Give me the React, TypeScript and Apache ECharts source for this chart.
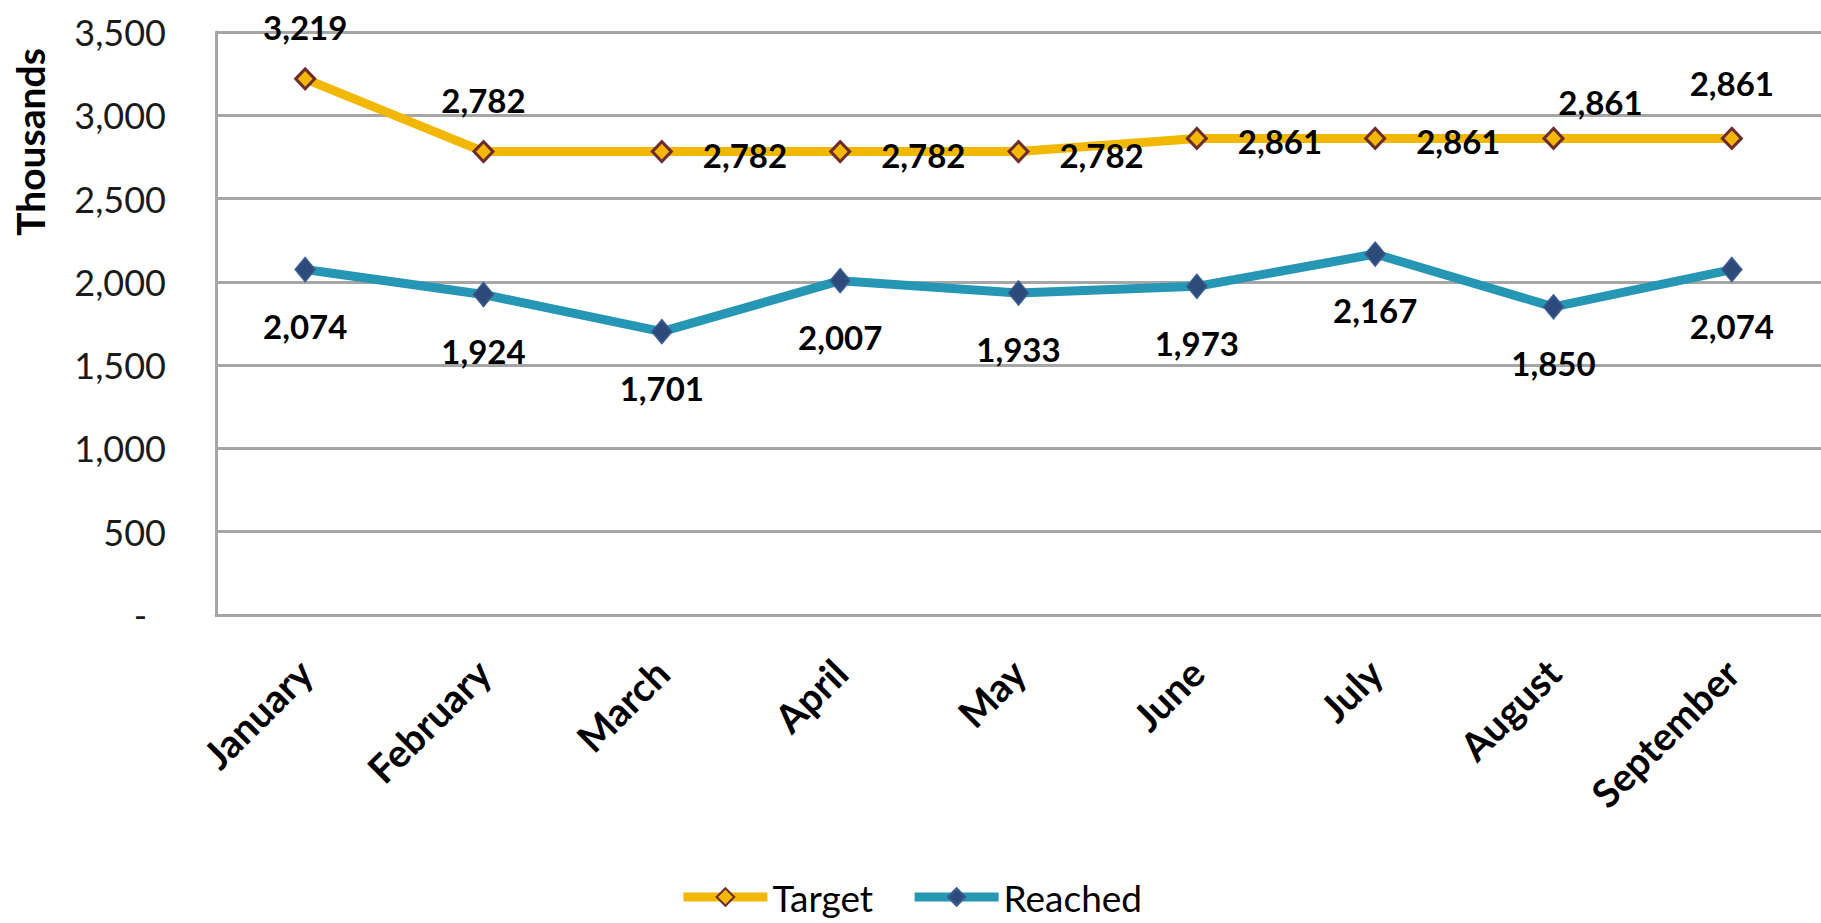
import React, { useEffect, useRef } from "react";
import * as echarts from "echarts";

const months = ["January", "February", "March", "April", "May", "June", "July", "August", "September"];
const targetValues = [3219, 2782, 2782, 2782, 2782, 2861, 2861, 2861, 2861];
const reachedValues = [2074, 1924, 1701, 2007, 1933, 1973, 2167, 1850, 2074];
const yTicks = { min: 0, max: 3500, interval: 500 };

// label placement (style only)
const targetLabelPos = ["top", "top", "right", "right", "right", "right", "right", "top", "top"];
const targetLabelOffset = [[0, 0], [0, 0], [0, 3], [0, 3], [0, 3], [0, 3], [0, 3], [47, 16], [0, -3]];

const fmt = (v: number) => v.toLocaleString("en-US");

export default function App() {
  const ref = useRef<HTMLDivElement>(null);
  useEffect(() => {
    if (!ref.current) return;
    const chart = echarts.init(ref.current, undefined, { renderer: "svg" });
    const labelBase = {
      show: true,
      color: "#000",
      fontWeight: "bold" as const,
      fontSize: 33,
      fontFamily: "Lato",
      formatter: (p: any) => fmt(p.value),
    };
    const option = {
      animation: false,
      textStyle: { fontFamily: "Lato" },
      grid: { left: 216, top: 32, width: 1608, height: 583, containLabel: false },
      legend: {
        top: 873,
        left: "center",
        itemWidth: 84,
        itemHeight: 22,
        itemGap: 37,
        lineStyle: { width: 9 },
        textStyle: { fontSize: 37, lineHeight: 38, color: "#000", fontFamily: "Lato" },
        data: ["Target", "Reached"],
      },
      xAxis: {
        type: "category",
        data: months,
        boundaryGap: true,
        axisTick: { show: false },
        axisLine: { lineStyle: { color: "#A6A6A6", width: 3 } },
        axisLabel: {
          rotate: 45,
          fontSize: 39,
          fontWeight: "bold",
          color: "#000",
          margin: 51,
          interval: 0,
        },
      },
      yAxis: {
        type: "value",
        min: yTicks.min,
        max: yTicks.max,
        interval: yTicks.interval,
        axisLine: { show: true, lineStyle: { color: "#A6A6A6", width: 3 } },
        axisTick: { show: false },
        splitLine: { lineStyle: { color: "#A6A6A6", width: 3 } },
        axisLabel: {
          fontSize: 36,
          color: "#1a1a1a",
          margin: 50,
          formatter: (v: number) => (v === 0 ? "{d|-}" : fmt(v)),
          rich: { d: { fontSize: 36, color: "#1a1a1a", padding: [0, 19, 0, 0] } },
        },
      },
      graphic: [
        {
          type: "text",
          x: 30,
          y: 142,
          rotation: Math.PI / 2,
          style: {
            text: "Thousands",
            fontSize: 39,
            fontWeight: "bold",
            fontFamily: "Lato",
            fill: "#000",
            align: "center",
            verticalAlign: "middle",
          },
        },
      ],
      series: [
        {
          name: "Target",
          type: "line",
          data: targetValues.map((v, i) => ({
            value: v,
            label: {
              position: targetLabelPos[i],
              distance: targetLabelPos[i] === "right" ? 30 : 24,
              offset: targetLabelOffset[i],
            },
          })),
          symbol: "diamond",
          symbolSize: [19, 20],
          lineStyle: { color: "#F2B700", width: 9 },
          itemStyle: { color: "#F5B800", borderColor: "#6E2C2C", borderWidth: 3 },
          label: labelBase,
          emphasis: { disabled: true },
          z: 3,
        },
        {
          name: "Reached",
          type: "line",
          data: reachedValues,
          symbol: "diamond",
          symbolSize: [20, 24],
          lineStyle: { color: "#2596B4", width: 9 },
          itemStyle: { color: "#2D4B7A", borderColor: "#3B5D91", borderWidth: 1.5 },
          label: { ...labelBase, position: "bottom", distance: 27 },
          emphasis: { disabled: true },
          z: 3,
        },
      ],
    };
    chart.setOption(option as any);
    return () => chart.dispose();
  }, []);
  return (
    <div
      ref={ref}
      style={{ position: "absolute", left: 0, top: 0, width: 1821, height: 923, background: "#fff" }}
    />
  );
}
